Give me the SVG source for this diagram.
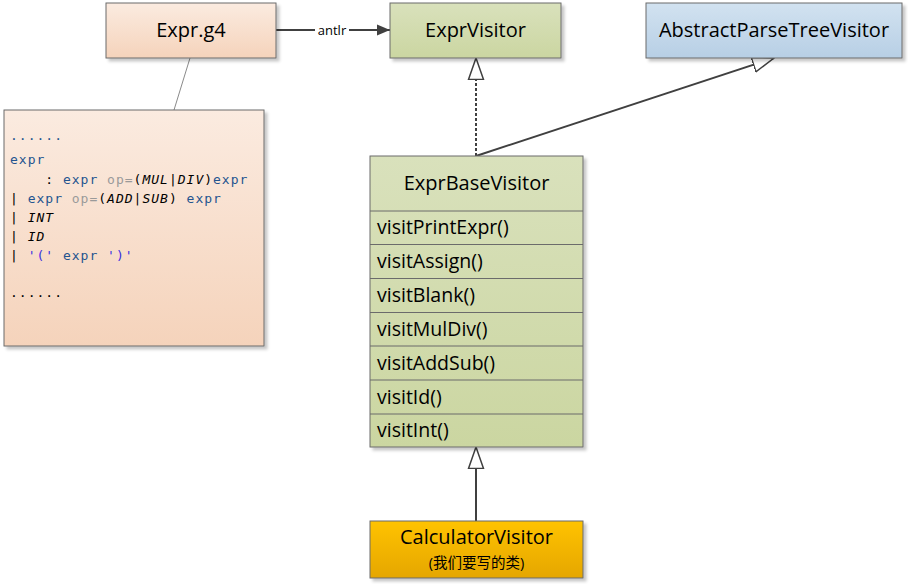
<svg xmlns="http://www.w3.org/2000/svg" width="908" height="584" viewBox="0 0 908 584">
<defs>
<linearGradient id="gPeach" x1="0" y1="0" x2="0" y2="1"><stop offset="0" stop-color="#fbebe0"/><stop offset="1" stop-color="#f5d3bb"/></linearGradient>
<linearGradient id="gGreen" x1="0" y1="0" x2="0" y2="1"><stop offset="0" stop-color="#d9e1bc"/><stop offset="1" stop-color="#cbd6a1"/></linearGradient>
<linearGradient id="gBlue" x1="0" y1="0" x2="0" y2="1"><stop offset="0" stop-color="#d2e2f0"/><stop offset="1" stop-color="#b7cfe5"/></linearGradient>
<linearGradient id="gOrange" x1="0" y1="0" x2="0" y2="1"><stop offset="0" stop-color="#ffc300"/><stop offset="1" stop-color="#e5a600"/></linearGradient>
<filter id="sh" x="-10%" y="-10%" width="130%" height="130%"><feDropShadow dx="3" dy="3" stdDeviation="1.5" flood-color="#000" flood-opacity="0.22"/></filter>
<marker id="hollow" markerUnits="userSpaceOnUse" markerWidth="24" markerHeight="18" refX="22" refY="8" orient="auto" viewBox="0 0 24 16">
<path d="M0.5,0.5 L22,8 L0.5,15.5 z" fill="#fff" stroke="#404040" stroke-width="1.5"/>
</marker>
<marker id="filled" markerUnits="userSpaceOnUse" markerWidth="14" markerHeight="12" refX="13" refY="5.5" orient="auto" viewBox="0 0 14 11">
<path d="M0,0 L13,5.5 L0,11 z" fill="#404040"/>
</marker>
<style>
.box{stroke:#6b6b6b;stroke-width:1;filter:url(#sh)}
.lbl{font-family:"Segoe UI","Open Sans","Noto Sans","Noto Sans CJK SC",sans-serif;font-size:20px;fill:#000}
.mth{font-family:"Segoe UI","Open Sans","Noto Sans",sans-serif;font-size:19.5px;fill:#000}
.sep{stroke:#6b6b6b;stroke-width:1}
.code{font-family:"DejaVu Sans Mono","Liberation Mono",monospace;font-size:13px;letter-spacing:1px;fill:#000}
.kw{fill:#24548f}
.gr{fill:#9a9a9a}
.it{font-style:italic;font-weight:normal}
.st{fill:#3a2de0}
.conn{stroke:#404040;stroke-width:2;fill:none}
</style>
</defs>

<g id="connectors">
<line x1="190" y1="58" x2="174" y2="110" stroke="#8a8a8a" stroke-width="1"/>
<line class="conn" x1="276" y1="30" x2="390" y2="30" marker-end="url(#filled)"/>
<rect x="315" y="22" width="34" height="16" fill="#fff"/>
<text x="332" y="35" text-anchor="middle" font-family="Segoe UI,Open Sans,Noto Sans,sans-serif" font-size="13" fill="#000">antlr</text>
<line class="conn" x1="476" y1="156" x2="476" y2="58" stroke-dasharray="3,2" marker-end="url(#hollow)"/>
<line class="conn" x1="476" y1="156" x2="774" y2="58" marker-end="url(#hollow)"/>
<line class="conn" x1="476" y1="521" x2="476" y2="447" marker-end="url(#hollow)"/>
</g>

<g id="node-exprg4">
<rect class="box" x="106" y="3" width="170" height="55" fill="url(#gPeach)"/>
<text class="lbl" x="191" y="37" text-anchor="middle">Expr.g4</text>
</g>

<g id="node-exprvisitor">
<rect class="box" x="390" y="3" width="171" height="55" fill="url(#gGreen)"/>
<text class="lbl" x="475.5" y="37" text-anchor="middle">ExprVisitor</text>
</g>

<g id="node-abstract">
<rect class="box" x="646" y="3" width="256" height="55" fill="url(#gBlue)"/>
<text class="lbl" x="774" y="37" text-anchor="middle">AbstractParseTreeVisitor</text>
</g>

<g id="node-grammar">
<rect class="box" x="4" y="110" width="260" height="236" fill="url(#gPeach)"/>
<text class="code" xml:space="preserve" x="10" y="140"><tspan class="kw">......</tspan></text>
<text class="code" xml:space="preserve" x="10" y="164"><tspan class="kw">expr</tspan></text>
<text class="code" xml:space="preserve" x="10" y="184">    : <tspan class="kw">expr</tspan> <tspan class="gr">op=</tspan>(<tspan class="it">MUL</tspan>|<tspan class="it">DIV</tspan>)<tspan class="kw">expr</tspan></text>
<text class="code" xml:space="preserve" x="10" y="203">| <tspan class="kw">expr</tspan> <tspan class="gr">op=</tspan>(<tspan class="it">ADD</tspan>|<tspan class="it">SUB</tspan>) <tspan class="kw">expr</tspan></text>
<text class="code" xml:space="preserve" x="10" y="222">| <tspan class="it">INT</tspan></text>
<text class="code" xml:space="preserve" x="10" y="241">| <tspan class="it">ID</tspan></text>
<text class="code" xml:space="preserve" x="10" y="260">| <tspan class="st">'('</tspan> <tspan class="kw">expr</tspan> <tspan class="st">')'</tspan></text>
<text class="code" xml:space="preserve" x="10" y="297">......</text>
</g>

<g id="node-exprbasevisitor">
<rect class="box" x="370" y="156" width="213" height="291" fill="url(#gGreen)"/>
<line class="sep" x1="370" y1="211" x2="583" y2="211"/>
<line class="sep" x1="370" y1="244.5" x2="583" y2="244.5"/>
<line class="sep" x1="370" y1="278.5" x2="583" y2="278.5"/>
<line class="sep" x1="370" y1="312.5" x2="583" y2="312.5"/>
<line class="sep" x1="370" y1="346" x2="583" y2="346"/>
<line class="sep" x1="370" y1="380" x2="583" y2="380"/>
<line class="sep" x1="370" y1="414" x2="583" y2="414"/>
<text class="lbl" x="476.5" y="190" text-anchor="middle">ExprBaseVisitor</text>
<text class="mth" x="377" y="234">visitPrintExpr()</text>
<text class="mth" x="377" y="268">visitAssign()</text>
<text class="mth" x="377" y="302">visitBlank()</text>
<text class="mth" x="377" y="336">visitMulDiv()</text>
<text class="mth" x="377" y="369.5">visitAddSub()</text>
<text class="mth" x="377" y="403.5">visitId()</text>
<text class="mth" x="377" y="437">visitInt()</text>
</g>

<g id="node-calculator">
<rect class="box" x="370" y="521" width="213" height="57" fill="url(#gOrange)"/>
<text class="lbl" x="476.5" y="544" text-anchor="middle">CalculatorVisitor</text>
<text x="476.5" y="568" text-anchor="middle" font-family="Segoe UI,Open Sans,Noto Sans CJK SC,sans-serif" font-size="14.5" fill="#000">(我们要写的类)</text>
</g>
</svg>
